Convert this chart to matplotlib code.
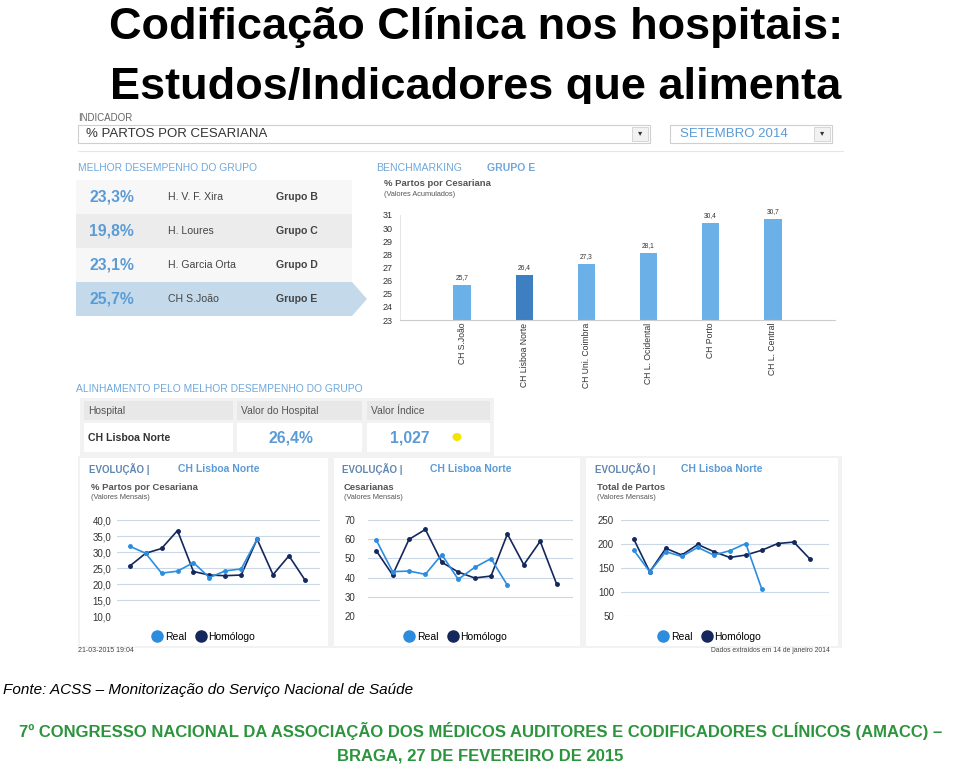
import matplotlib
matplotlib.use("Agg")
import matplotlib.pyplot as plt
from matplotlib.patches import Rectangle, Polygon, Ellipse
from matplotlib.lines import Line2D

titulo = ["Codificação Clínica nos hospitais:", "Estudos/Indicadores que alimenta"]
indicador = "% PARTOS POR CESARIANA"
periodo = "SETEMBRO 2014"

# melhor desempenho de cada grupo
melhor_pct = [23.3, 19.8, 23.1, 25.7]
melhor_hosp = ["H. V. F. Xira", "H. Loures", "H. Garcia Orta", "CH S.João"]
melhor_grupo = ["Grupo B", "Grupo C", "Grupo D", "Grupo E"]

# benchmarking grupo E (valores acumulados)
bench_hosp = ["CH S.João", "CH Lisboa Norte", "CH Uni. Coimbra",
              "CH L. Ocidental", "CH Porto", "CH L. Central"]
bench_val = [25.7, 26.4, 27.3, 28.1, 30.4, 30.7]
bench_ticks = [23, 24, 25, 26, 27, 28, 29, 30, 31]

# alinhamento
hosp_sel = "CH Lisboa Norte"
valor_hosp = 26.4
valor_indice = 1.027

# evolução mensal (Real = 2014 até setembro, Homólogo = 12 meses do ano anterior)
real_pct = [31.8, 29.6, 23.4, 24.0, 26.7, 22.0, 24.1, 24.7, 34.0]
homo_pct = [25.6, 29.6, 31.1, 36.7, 23.9, 22.8, 22.6, 22.8, 34.0, 22.9, 28.8, 21.3]
real_ces = [59.6, 43.1, 43.4, 41.7, 52.0, 39.1, 45.3, 49.9, 36.0]
homo_ces = [54.0, 41.4, 59.9, 65.1, 48.0, 42.9, 39.8, 40.8, 62.7, 46.7, 58.9, 36.7]
real_partos = [187, 142, 184, 174, 193, 177, 186, 201, 106]
homo_partos = [210, 142, 191, 177, 199, 184, 172, 177, 187, 201, 204, 169]

fonte = "Fonte: ACSS – Monitorização do Serviço Nacional de Saúde"
rodape = ["7º CONGRESSO NACIONAL DA ASSOCIAÇÃO DOS MÉDICOS AUDITORES E CODIFICADORES CLÍNICOS (AMACC) –",
          "BRAGA, 27 DE FEVEREIRO DE 2015"]

# ---------------- estilo ----------------
plt.rcParams["font.family"] = ["Liberation Sans", "DejaVu Sans"]
SLIDE = ["Liberation Sans", "DejaVu Sans"]
AZUL = "#5b9bd5"
AZUL_TIT = "#6fa8dc"
REAL = "#2b8de0"
HOMO = "#14285e"
GRELHA = "#c9d7e6"
VERDE = "#2b943c"

W, H = 960, 770
fig = plt.figure(figsize=(W / 100, H / 100), dpi=100)


def fx(x):
    return x / W


def fy(y):
    return 1 - y / H


def txt(x, y, s, **kw):
    kw.setdefault("va", "center")
    return fig.text(fx(x), fy(y), s, **kw)


def caixa(x0, y0, x1, y1, z=-1, **kw):
    r = Rectangle((fx(x0), fy(y1)), (x1 - x0) / W, (y1 - y0) / H,
                  transform=fig.transFigure, zorder=z, **kw)
    fig.add_artist(r)


def virgula(v, casas=1):
    return f"{v:.{casas}f}".replace(".", ",")


# ---------------- título do slide ----------------
txt(476, 39, titulo[0], ha="center", va="baseline", fontsize=32.5,
    fontweight="bold", family=SLIDE, zorder=-3)
txt(476, 99, titulo[1], ha="center", va="baseline", fontsize=32.5,
    fontweight="bold", family=SLIDE, zorder=-3)
# o print do painel tapa a parte de baixo do título
caixa(74, 104, 845, 660, z=-2, facecolor="white", edgecolor="none")

# ---------------- topo: indicador e período ----------------
txt(78, 118, "INDICADOR", fontsize=7, color="#666666")
caixa(78, 125, 650, 143, facecolor="white", edgecolor="#cfcfcf", lw=0.8)
txt(86, 134, indicador, fontsize=9.5, color="#333333")
caixa(632, 127, 648, 141, facecolor="#f2f2f2", edgecolor="#d0d0d0", lw=0.6)
txt(640, 134, "▾", fontsize=6, ha="center", color="#333333")
caixa(670, 125, 832, 143, facecolor="white", edgecolor="#cfcfcf", lw=0.8)
txt(680, 134, periodo, fontsize=9.5, color=AZUL)
caixa(814, 127, 830, 141, facecolor="#f2f2f2", edgecolor="#d0d0d0", lw=0.6)
txt(822, 134, "▾", fontsize=6, ha="center", color="#333333")
fig.add_artist(Line2D([fx(78), fx(843)], [fy(151), fy(151)], color="#e6e6e6",
                     lw=0.8, transform=fig.transFigure))

# ---------------- melhor desempenho do grupo ----------------
txt(78, 168, "MELHOR DESEMPENHO DO GRUPO", fontsize=7.4, color=AZUL_TIT)
linhas_y = [180, 214, 248, 282, 316]
fundos = ["#f7f7f7", "#ececec", "#f7f7f7", "#c4d9ea"]
for i in range(len(melhor_pct)):
    y0, y1 = linhas_y[i], linhas_y[i + 1]
    caixa(76, y0, 352, y1, facecolor=fundos[i], edgecolor="none")
    yc = (y0 + y1) / 2
    txt(89, yc, virgula(melhor_pct[i]) + "%", fontsize=11.3, fontweight="bold", color=AZUL)
    txt(168, yc, melhor_hosp[i], fontsize=7.6, color="#444444")
    txt(276, yc, melhor_grupo[i], fontsize=7.6, fontweight="bold", color="#444444")
seta = Polygon([(fx(352), fy(282)), (fx(367), fy(299)), (fx(352), fy(316))],
               closed=True, facecolor=fundos[-1], edgecolor="none",
               transform=fig.transFigure, zorder=-1)
fig.add_artist(seta)

# ---------------- benchmarking ----------------
txt(376, 168, "BENCHMARKING", fontsize=7.6, color=AZUL_TIT)
txt(487, 168, "GRUPO E", fontsize=7.6, fontweight="bold", color=AZUL_TIT)
txt(384, 184, "% Partos por Cesariana", fontsize=6.8, fontweight="bold", color="#555555")
txt(384, 194, "(Valores Acumulados)", fontsize=5.3, color="#555555")

axb = fig.add_axes([fx(400), fy(320), (835 - 400) / W, (320 - 215) / H])
axb.set_facecolor("none")
cores_b = ["#3d7fc1" if h == hosp_sel else "#6cb0e8" for h in bench_hosp]
pos = list(range(len(bench_hosp)))
axb.bar(pos, [v - bench_ticks[0] for v in bench_val], bottom=bench_ticks[0],
        width=0.28, color=cores_b)
for p, v in zip(pos, bench_val):
    axb.text(p, v + 0.3, virgula(v), ha="center", va="bottom", fontsize=4.8, color="#333333")
axb.set_xlim(-1, 6)
axb.set_ylim(bench_ticks[0], bench_ticks[-1])
axb.set_yticks(bench_ticks)
axb.set_xticks(pos)
axb.set_xticklabels(bench_hosp, rotation=90, fontsize=6.2, color="#333333")
axb.tick_params(axis="y", labelsize=6.5, length=0, pad=5, labelcolor="#333333")
axb.tick_params(axis="x", length=0, pad=2)
for s in ["top", "right"]:
    axb.spines[s].set_visible(False)
axb.spines["left"].set_color("#e0e0e0")
axb.spines["bottom"].set_color("#cccccc")
axb.spines["left"].set_linewidth(0.6)
axb.spines["bottom"].set_linewidth(0.8)

# ---------------- alinhamento pelo melhor desempenho ----------------
txt(76, 389, "ALINHAMENTO PELO MELHOR DESEMPENHO DO GRUPO", fontsize=7.4, color=AZUL_TIT)
caixa(80, 398, 494, 456, facecolor="#f2f2f2", edgecolor="none", z=-1.5)
colunas = [(84, 233), (237, 362), (367, 490)]
cabecalho = ["Hospital", "Valor do Hospital", "Valor Índice"]
for (a, b), nome in zip(colunas, cabecalho):
    caixa(a, 401, b, 420, facecolor="#e8e8e8", edgecolor="none")
    caixa(a, 423, b, 452, facecolor="white", edgecolor="none")
    txt(a + 4, 411, nome, fontsize=7.4, color="#555555")
txt(88, 438, hosp_sel, fontsize=7.6, fontweight="bold", color="#333333")
txt(291, 438, virgula(valor_hosp) + "%", fontsize=11.3, fontweight="bold", color=AZUL, ha="center")
txt(410, 438, virgula(valor_indice, 3), fontsize=11.3, fontweight="bold", color=AZUL, ha="center")
fig.add_artist(Ellipse((fx(457), fy(437)), 9 / W, 8 / H, transform=fig.transFigure,
                       facecolor="#f5e400", edgecolor="none", zorder=2))

# ---------------- evolução mensal (3 painéis) ----------------
caixa(78, 456, 842, 648, facecolor="#f2f2f2", edgecolor="none", z=-1.5)
paineis = [
    dict(card=(80, 328), tit=(89, 178), sub="% Partos por Cesariana", rect=(117, 320),
         ylim=(10, 40), step=5, casas=1, pad=4, xlim=(-0.8, 11.95), leg=203,
         real=real_pct, homo=homo_pct),
    dict(card=(334, 580), tit=(342, 430), sub="Cesarianas", rect=(368, 573),
         ylim=(20, 70), step=10, casas=0, pad=9, xlim=(-0.5, 12.0), leg=455,
         real=real_ces, homo=homo_ces),
    dict(card=(586, 838), tit=(595, 681), sub="Total de Partos", rect=(621, 829),
         ylim=(50, 250), step=50, casas=0, pad=5, xlim=(-0.8, 12.2), leg=709,
         real=real_partos, homo=homo_partos),
]
for p in paineis:
    caixa(p["card"][0], 458, p["card"][1], 646, facecolor="white", edgecolor="none")
    txt(p["tit"][0], 469, "EVOLUÇÃO |", fontsize=7, fontweight="bold", color="#5f86b0")
    txt(p["tit"][1], 469, hosp_sel, fontsize=7.5, fontweight="bold", color=AZUL)
    txt(p["tit"][0] + 2, 487, p["sub"], fontsize=6.8, fontweight="bold", color="#555555")
    txt(p["tit"][0] + 2, 497, "(Valores Mensais)", fontsize=5.3, color="#555555")

    ax = fig.add_axes([fx(p["rect"][0]), fy(616), (p["rect"][1] - p["rect"][0]) / W, 96 / H])
    ax.set_facecolor("none")
    lo, hi = p["ylim"]
    ticks = list(range(lo, hi + 1, p["step"]))
    ax.plot(range(len(p["homo"])), p["homo"], color=HOMO, lw=1.2,
            marker="o", markersize=2.5, zorder=2)
    ax.plot(range(len(p["real"])), p["real"], color=REAL, lw=1.2,
            marker="o", markersize=2.5, zorder=3)
    ax.set_ylim(lo, hi)
    ax.set_xlim(*p["xlim"])
    ax.set_yticks(ticks)
    ax.set_yticklabels([virgula(t, p["casas"]) for t in ticks])
    ax.set_xticks([])
    ax.grid(axis="y", color=GRELHA, lw=0.8)
    ax.tick_params(axis="y", labelsize=7, length=0, pad=p["pad"], labelcolor="#333333")
    for s in ax.spines.values():
        s.set_visible(False)
    alcas = [Line2D([], [], ls="", marker="o", markersize=8, color=REAL, label="Real"),
             Line2D([], [], ls="", marker="o", markersize=8, color=HOMO, label="Homólogo")]
    ax.legend(handles=alcas, loc="center", bbox_to_anchor=(fx(p["leg"]), fy(637)),
              bbox_transform=fig.transFigure, ncol=2, frameon=False, fontsize=7.5,
              handletextpad=0.1, columnspacing=0.8, handlelength=1.2)

txt(78, 651, "21-03-2015 19:04", fontsize=5, color="#444444")
txt(830, 651, "Dados extraídos em 14 de janeiro 2014", fontsize=4.9, color="#444444", ha="right")

# ---------------- fonte e rodapé ----------------
txt(3, 690, fonte, fontsize=11, style="italic", family=SLIDE)
txt(481, 731, rodape[0], fontsize=12, fontweight="bold", color=VERDE, family=SLIDE, ha="center")
txt(480, 756, rodape[1], fontsize=12, fontweight="bold", color=VERDE, family=SLIDE, ha="center")

plt.savefig("out.png", dpi=100)
